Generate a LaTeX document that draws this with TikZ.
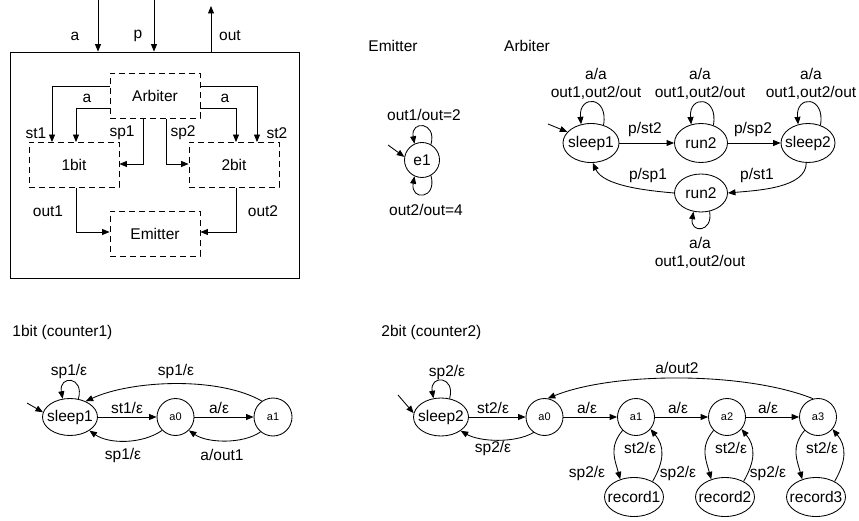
\documentclass[tikz,border=0pt]{standalone}
\usepackage{fontspec}
\setmainfont{Liberation Sans}
\usetikzlibrary{arrows.meta,shapes.geometric}
\newcommand\zw[1]{\makebox[0pt]{#1}}
\tikzset{
  blk/.style={draw, dash pattern=on 6pt off 4pt, minimum width=90pt, minimum height=45pt, inner sep=0pt},
  bigst/.style={draw, ellipse, inner sep=0pt, minimum width=56pt, minimum height=39pt},
  smst/.style={draw, circle, inner sep=0pt, minimum size=37pt, font=\fontsize{11}{13}\selectfont},
  lbl/.style={inner sep=0pt},
}
\begin{document}
\begin{tikzpicture}[x=1pt,y=-1pt,line width=0.85pt,
  font=\fontsize{15.5}{18}\selectfont,
  >={Triangle[length=7.5pt,width=6pt]}]
\useasboundingbox (0,0) rectangle (859,521);
% ---------- block diagram ----------
\node[draw, minimum width=289pt, minimum height=226pt, inner sep=0pt] (sys) at (154.5,165) {};
\node[blk] (arb) at (155,96) {Arbiter};
\node[blk] (b1) at (74,165) {1bit};
\node[blk] (b2) at (234,165) {2bit};
\node[blk] (em) at (155,234) {Emitter};
\coordinate (ina) at (98,0);
\coordinate (inp) at (154,0);
\coordinate (outt) at (211,6);
\draw[->] (ina) -- (ina |- sys.north);
\draw[->] (inp) -- (inp |- sys.north);
\draw[->] (outt |- sys.north) -- (outt);
\draw[->] ([yshift=10pt]arb.west) -| ([xshift=-22pt]b1.north);
\draw[->] ([yshift=-12pt]arb.west) -| ([xshift=2pt]b1.north);
\draw[->] ([xshift=-12pt]arb.south) |- ([yshift=1pt]b1.east);
\draw[->] ([xshift=11pt]arb.south) |- ([yshift=1pt]b2.west);
\draw[->] ([yshift=-12pt]arb.east) -| ([xshift=2pt]b2.north);
\draw[->] ([yshift=10pt]arb.east) -| ([xshift=23pt]b2.north);
\draw[->] ([xshift=2pt]b1.south) |- ([yshift=2pt]em.west);
\draw[->] ([xshift=2pt]b2.south) |- ([yshift=2pt]em.east);
\node[lbl] (lina) at (75,36) {a};
\node[lbl] (linp) at (138,36) {p};
\node[lbl] (lout) at (230,36) {out};
\node[lbl] (lst1) at (36,133) {st1};
\node[lbl] (la1) at (87,98) {a};
\node[lbl] (lsp1) at (122,133) {sp1};
\node[lbl] (lsp2) at (183,133) {sp2};
\node[lbl] (la2) at (225,98) {a};
\node[lbl] (lst2) at (277,133) {st2};
\node[lbl] (lo1) at (48,211) {out1};
\node[lbl] (lo2) at (263,211) {out2};
% ---------- Emitter ----------
\node[lbl] (tem) at (393,46) {Emitter};
\node[draw, circle, inner sep=0pt, minimum size=35pt] (e1) at (422,160) {e1};
\coordinate (e1i) at (388,145);
\draw[->] (e1i) -- (e1.170);
\draw[->] (e1.60) .. controls +(75:24pt) and +(100:24pt) .. (e1.115);
\draw[->] (e1.-60) .. controls +(-75:25pt) and +(-100:25pt) .. (e1.-115);
\node[lbl] (le1) at (424,115) {out1/out=2};
\node[lbl] (le2) at (426,210) {out2/out=4};
% ---------- Arbiter ----------
\node[lbl] (tarb) at (527,46) {Arbiter};
\node[bigst] (as1) at (591,143) {\zw{sleep1}};
\node[bigst, minimum width=53pt] (ar1) at (701,143) {\zw{run2}};
\node[bigst, minimum width=54pt] (as2) at (808,143) {\zw{sleep2}};
\node[bigst, minimum width=53pt, minimum height=38pt] (ar2) at (701,193) {\zw{run2}};
\coordinate (as1i) at (548,124);
\draw[->] (as1i) -- (as1.155);
\draw[->] (as1.55) .. controls +(80:30pt) and +(95:30pt) .. (as1.118);
\draw[->] (ar1.55) .. controls +(80:30pt) and +(95:30pt) .. (ar1.118);
\draw[->] (as2.55) .. controls +(80:30pt) and +(95:30pt) .. (as2.118);
\draw[->] (ar2.-65) .. controls +(-80:22pt) and +(-100:22pt) .. (ar2.-112);
\draw[->] (as1) -- (ar1);
\draw[->] (ar1) -- (as2);
\draw[->] (as2.-95) .. controls +(-90:25pt) and +(5:30pt) .. (ar2.east);
\draw[->] (ar2.west) .. controls +(175:30pt) and +(-65:25pt) .. (as1.-85);
\node[lbl, align=center] (lq1) at (596,84) {a/a\\out1,out2/out};
\node[lbl, align=center] (lq2) at (700,84) {a/a\\out1,out2/out};
\node[lbl, align=center] (lq3) at (811,84) {a/a\\out1,out2/out};
\node[lbl, align=center] (lq4) at (700,253) {a/a\\out1,out2/out};
\node[lbl] (lpst2) at (645,129) {p/st2};
\node[lbl] (lpsp2) at (753,129) {p/sp2};
\node[lbl] (lpsp1) at (648,175) {p/sp1};
\node[lbl] (lpst1) at (757,175) {p/st1};
% ---------- 1bit ----------
\node[lbl, anchor=west] (t1) at (12,332) {1bit (counter1)};
\node[bigst, minimum width=55pt, minimum height=37pt] (c1s) at (70,417) {\zw{sleep1}};
\node[smst] (c1a0) at (175.5,417) {a0};
\node[smst, minimum size=38pt] (c1a1) at (273,417) {a1};
\coordinate (c1i) at (27,403);
\draw[->] (c1i) -- (c1s.170);
\draw[->] (c1s.65) .. controls +(75:24pt) and +(100:24pt) .. (c1s.112);
\draw[->] (c1s) -- (c1a0);
\draw[->] (c1a0) -- (c1a1);
\draw[->] (c1a1.125) .. controls +(150:50pt) and +(25:50pt) .. (c1s.45);
\draw[->] (c1a0.-135) .. controls +(-145:24pt) and +(-35:24pt) .. (c1s.-35);
\draw[->] (c1a1.-130) .. controls +(-145:22pt) and +(-35:22pt) .. (c1a0.-45);
\node[lbl] (m1) at (69,371) {sp1/ε};
\node[lbl] (m2) at (176,371) {sp1/ε};
\node[lbl] (m3) at (127,408) {st1/ε};
\node[lbl] (m4) at (219,408) {a/ε};
\node[lbl] (m5) at (123,455) {sp1/ε};
\node[lbl] (m6) at (222,455) {a/out1};
% ---------- 2bit ----------
\node[lbl, anchor=west] (t2) at (381,332) {2bit (counter2)};
\node[bigst, minimum width=55pt, minimum height=38pt] (c2s) at (441,417) {\zw{sleep2}};
\node[smst] (c2a0) at (544.5,417) {a0};
\node[smst] (c2a1) at (636,417) {a1};
\node[smst] (c2a2) at (727,417) {a2};
\node[smst] (c2a3) at (818,417) {a3};
\node[bigst, minimum width=59pt] (r1) at (634,497) {\zw{record1}};
\node[bigst, minimum width=59pt] (r2) at (725,497) {\zw{record2}};
\node[bigst, minimum width=59pt] (r3) at (816,497) {\zw{record3}};
\coordinate (c2i) at (398,395);
\draw[->] (c2i) -- (c2s.172);
\draw[->] (c2s.65) .. controls +(75:24pt) and +(100:24pt) .. (c2s.112);
\draw[->] (c2s) -- (c2a0);
\draw[->] (c2a0.-125) .. controls +(-150:22pt) and +(-30:22pt) .. (c2s.-35);
\draw[->] (c2a0) -- (c2a1);
\draw[->] (c2a1) -- (c2a2);
\draw[->] (c2a2) -- (c2a3);
\draw[->] (c2a3.105) .. controls +(158:72pt) and +(22:72pt) .. (c2a0.80);
\foreach \i in {1,2,3}{
  \draw[->] (c2a\i.-135) .. controls +(-130:22pt) and +(105:20pt) .. (r\i.128);
  \draw[->] (r\i.40) .. controls +(60:24pt) and +(-50:22pt) .. (c2a\i.-40);
}
\node[lbl] (n1) at (447,372) {sp2/ε};
\node[lbl] (n2) at (493,408) {st2/ε};
\node[lbl] (n3) at (493,448) {sp2/ε};
\node[lbl] (n4) at (587,408) {a/ε};
\node[lbl] (n5) at (678,408) {a/ε};
\node[lbl] (n6) at (768,408) {a/ε};
\node[lbl] (n7) at (677,368) {a/out2};
\node[lbl] (n8) at (640,448) {st2/ε};
\node[lbl] (n9) at (731,448) {st2/ε};
\node[lbl] (n10) at (822,448) {st2/ε};
\node[lbl] (n11) at (587,473) {sp2/ε};
\node[lbl] (n12) at (678,473) {sp2/ε};
\node[lbl] (n13) at (768,473) {sp2/ε};
\end{tikzpicture}
\end{document}
